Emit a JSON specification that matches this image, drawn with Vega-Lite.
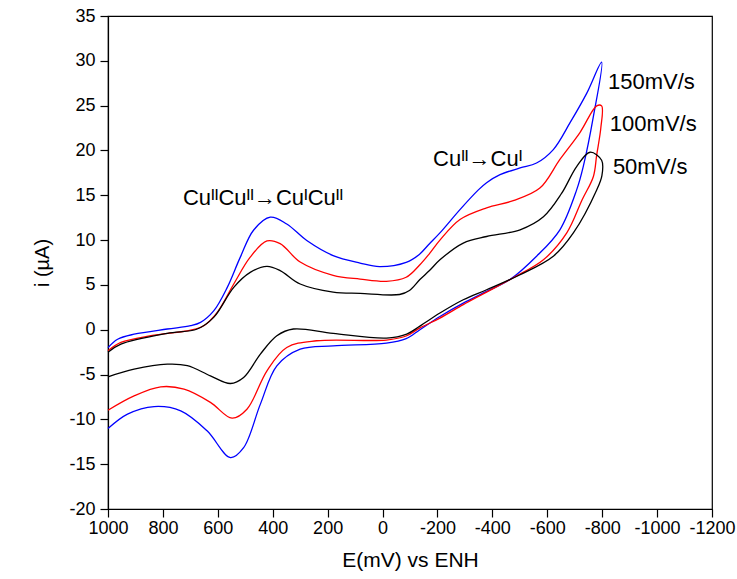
{
  "$schema": "https://vega.github.io/schema/vega-lite/v6.json",
  "width": 604,
  "height": 493,
  "autosize": {"type": "none"},
  "padding": {"left": 108, "top": 16, "right": 25, "bottom": 70},
  "config": {
    "font": "Liberation Sans",
    "view": {"stroke": "black", "strokeWidth": 1.2},
    "axis": {
      "grid": false,
      "domainColor": "black",
      "domainWidth": 1.2,
      "tickColor": "black",
      "tickWidth": 1.2,
      "labelColor": "black",
      "labelFontSize": 18,
      "labelFont": "Liberation Sans",
      "titleFont": "Liberation Sans",
      "titleColor": "black",
      "titleFontWeight": "normal",
      "labelOverlap": false,
      "labelFlush": false
    }
  },
  "datasets": {
    "cv": [
      {"s": "150mV/s", "o": 0, "E": 1000, "i": -2.0},
      {"s": "150mV/s", "o": 1, "E": 965, "i": -1.06},
      {"s": "150mV/s", "o": 2, "E": 905, "i": -0.5},
      {"s": "150mV/s", "o": 3, "E": 784, "i": 0.08},
      {"s": "150mV/s", "o": 4, "E": 699, "i": 0.45},
      {"s": "150mV/s", "o": 5, "E": 663, "i": 0.82},
      {"s": "150mV/s", "o": 6, "E": 615, "i": 2.1},
      {"s": "150mV/s", "o": 7, "E": 566, "i": 4.7},
      {"s": "150mV/s", "o": 8, "E": 518, "i": 8.1},
      {"s": "150mV/s", "o": 9, "E": 470, "i": 11.1},
      {"s": "150mV/s", "o": 10, "E": 409, "i": 12.56},
      {"s": "150mV/s", "o": 11, "E": 349, "i": 11.8},
      {"s": "150mV/s", "o": 12, "E": 276, "i": 9.95},
      {"s": "150mV/s", "o": 13, "E": 180, "i": 8.27},
      {"s": "150mV/s", "o": 14, "E": 82, "i": 7.44},
      {"s": "150mV/s", "o": 15, "E": 11, "i": 7.04},
      {"s": "150mV/s", "o": 16, "E": -86, "i": 7.52},
      {"s": "150mV/s", "o": 17, "E": -134, "i": 8.4},
      {"s": "150mV/s", "o": 18, "E": -171, "i": 9.6},
      {"s": "150mV/s", "o": 19, "E": -209, "i": 10.8},
      {"s": "150mV/s", "o": 20, "E": -282, "i": 13.4},
      {"s": "150mV/s", "o": 21, "E": -349, "i": 15.6},
      {"s": "150mV/s", "o": 22, "E": -379, "i": 16.4},
      {"s": "150mV/s", "o": 23, "E": -428, "i": 17.3},
      {"s": "150mV/s", "o": 24, "E": -501, "i": 18.05},
      {"s": "150mV/s", "o": 25, "E": -561, "i": 18.6},
      {"s": "150mV/s", "o": 26, "E": -622, "i": 20.1},
      {"s": "150mV/s", "o": 27, "E": -683, "i": 23.1},
      {"s": "150mV/s", "o": 28, "E": -744, "i": 26.4},
      {"s": "150mV/s", "o": 29, "E": -798, "i": 29.85},
      {"s": "150mV/s", "o": 30, "E": -768, "i": 23.8},
      {"s": "150mV/s", "o": 31, "E": -731, "i": 18.2},
      {"s": "150mV/s", "o": 32, "E": -707, "i": 15.6},
      {"s": "150mV/s", "o": 33, "E": -646, "i": 11.15},
      {"s": "150mV/s", "o": 34, "E": -561, "i": 8.2},
      {"s": "150mV/s", "o": 35, "E": -464, "i": 5.6},
      {"s": "150mV/s", "o": 36, "E": -379, "i": 4.27},
      {"s": "150mV/s", "o": 37, "E": -294, "i": 2.97},
      {"s": "150mV/s", "o": 38, "E": -209, "i": 1.48},
      {"s": "150mV/s", "o": 39, "E": -136, "i": 0.0},
      {"s": "150mV/s", "o": 40, "E": -86, "i": -1.0},
      {"s": "150mV/s", "o": 41, "E": -14, "i": -1.5},
      {"s": "150mV/s", "o": 42, "E": 180, "i": -1.8},
      {"s": "150mV/s", "o": 43, "E": 300, "i": -2.17},
      {"s": "150mV/s", "o": 44, "E": 385, "i": -4.03},
      {"s": "150mV/s", "o": 45, "E": 445, "i": -8.3},
      {"s": "150mV/s", "o": 46, "E": 506, "i": -13.16},
      {"s": "150mV/s", "o": 47, "E": 554, "i": -14.27},
      {"s": "150mV/s", "o": 48, "E": 639, "i": -11.28},
      {"s": "150mV/s", "o": 49, "E": 735, "i": -9.05},
      {"s": "150mV/s", "o": 50, "E": 832, "i": -8.57},
      {"s": "150mV/s", "o": 51, "E": 929, "i": -9.42},
      {"s": "150mV/s", "o": 52, "E": 1000, "i": -11.03},

      {"s": "100mV/s", "o": 0, "E": 1000, "i": -2.35},
      {"s": "100mV/s", "o": 1, "E": 953, "i": -1.42},
      {"s": "100mV/s", "o": 2, "E": 844, "i": -0.67},
      {"s": "100mV/s", "o": 3, "E": 699, "i": -0.04},
      {"s": "100mV/s", "o": 4, "E": 651, "i": 0.45},
      {"s": "100mV/s", "o": 5, "E": 602, "i": 1.94},
      {"s": "100mV/s", "o": 6, "E": 542, "i": 5.1},
      {"s": "100mV/s", "o": 7, "E": 482, "i": 8.1},
      {"s": "100mV/s", "o": 8, "E": 421, "i": 9.9},
      {"s": "100mV/s", "o": 9, "E": 373, "i": 9.6},
      {"s": "100mV/s", "o": 10, "E": 300, "i": 7.55},
      {"s": "100mV/s", "o": 11, "E": 180, "i": 6.07},
      {"s": "100mV/s", "o": 12, "E": 82, "i": 5.65},
      {"s": "100mV/s", "o": 13, "E": -14, "i": 5.4},
      {"s": "100mV/s", "o": 14, "E": -86, "i": 5.85},
      {"s": "100mV/s", "o": 15, "E": -136, "i": 7.25},
      {"s": "100mV/s", "o": 16, "E": -171, "i": 8.5},
      {"s": "100mV/s", "o": 17, "E": -209, "i": 10.0},
      {"s": "100mV/s", "o": 18, "E": -282, "i": 12.3},
      {"s": "100mV/s", "o": 19, "E": -379, "i": 13.6},
      {"s": "100mV/s", "o": 20, "E": -476, "i": 14.4},
      {"s": "100mV/s", "o": 21, "E": -573, "i": 15.8},
      {"s": "100mV/s", "o": 22, "E": -646, "i": 19.0},
      {"s": "100mV/s", "o": 23, "E": -719, "i": 22.0},
      {"s": "100mV/s", "o": 24, "E": -780, "i": 24.97},
      {"s": "100mV/s", "o": 25, "E": -798, "i": 24.97},
      {"s": "100mV/s", "o": 26, "E": -795, "i": 22.5},
      {"s": "100mV/s", "o": 27, "E": -780, "i": 19.5},
      {"s": "100mV/s", "o": 28, "E": -768, "i": 17.1},
      {"s": "100mV/s", "o": 29, "E": -727, "i": 14.5},
      {"s": "100mV/s", "o": 30, "E": -671, "i": 10.8},
      {"s": "100mV/s", "o": 31, "E": -586, "i": 7.8},
      {"s": "100mV/s", "o": 32, "E": -476, "i": 5.8},
      {"s": "100mV/s", "o": 33, "E": -379, "i": 4.2},
      {"s": "100mV/s", "o": 34, "E": -294, "i": 2.8},
      {"s": "100mV/s", "o": 35, "E": -209, "i": 1.3},
      {"s": "100mV/s", "o": 36, "E": -136, "i": 0.2},
      {"s": "100mV/s", "o": 37, "E": -86, "i": -0.7},
      {"s": "100mV/s", "o": 38, "E": -14, "i": -1.15},
      {"s": "100mV/s", "o": 39, "E": 240, "i": -1.23},
      {"s": "100mV/s", "o": 40, "E": 349, "i": -1.98},
      {"s": "100mV/s", "o": 41, "E": 421, "i": -4.58},
      {"s": "100mV/s", "o": 42, "E": 494, "i": -8.87},
      {"s": "100mV/s", "o": 43, "E": 548, "i": -9.87},
      {"s": "100mV/s", "o": 44, "E": 627, "i": -8.1},
      {"s": "100mV/s", "o": 45, "E": 723, "i": -6.63},
      {"s": "100mV/s", "o": 46, "E": 808, "i": -6.37},
      {"s": "100mV/s", "o": 47, "E": 905, "i": -7.38},
      {"s": "100mV/s", "o": 48, "E": 1000, "i": -8.98},

      {"s": "50mV/s", "o": 0, "E": 1000, "i": -2.5},
      {"s": "50mV/s", "o": 1, "E": 953, "i": -1.6},
      {"s": "50mV/s", "o": 2, "E": 784, "i": -0.4},
      {"s": "50mV/s", "o": 3, "E": 675, "i": 0.08},
      {"s": "50mV/s", "o": 4, "E": 615, "i": 1.38},
      {"s": "50mV/s", "o": 5, "E": 542, "i": 4.73},
      {"s": "50mV/s", "o": 6, "E": 482, "i": 6.4},
      {"s": "50mV/s", "o": 7, "E": 421, "i": 7.07},
      {"s": "50mV/s", "o": 8, "E": 373, "i": 6.6},
      {"s": "50mV/s", "o": 9, "E": 300, "i": 5.1},
      {"s": "50mV/s", "o": 10, "E": 180, "i": 4.2},
      {"s": "50mV/s", "o": 11, "E": 82, "i": 4.05},
      {"s": "50mV/s", "o": 12, "E": -62, "i": 3.93},
      {"s": "50mV/s", "o": 13, "E": -98, "i": 4.38},
      {"s": "50mV/s", "o": 14, "E": -136, "i": 5.6},
      {"s": "50mV/s", "o": 15, "E": -171, "i": 6.6},
      {"s": "50mV/s", "o": 16, "E": -209, "i": 7.8},
      {"s": "50mV/s", "o": 17, "E": -294, "i": 9.67},
      {"s": "50mV/s", "o": 18, "E": -379, "i": 10.4},
      {"s": "50mV/s", "o": 19, "E": -501, "i": 11.15},
      {"s": "50mV/s", "o": 20, "E": -586, "i": 12.6},
      {"s": "50mV/s", "o": 21, "E": -652, "i": 15.2},
      {"s": "50mV/s", "o": 22, "E": -707, "i": 18.2},
      {"s": "50mV/s", "o": 23, "E": -756, "i": 19.8},
      {"s": "50mV/s", "o": 24, "E": -798, "i": 18.9},
      {"s": "50mV/s", "o": 25, "E": -799, "i": 17.2},
      {"s": "50mV/s", "o": 26, "E": -780, "i": 15.6},
      {"s": "50mV/s", "o": 27, "E": -695, "i": 10.8},
      {"s": "50mV/s", "o": 28, "E": -622, "i": 8.2},
      {"s": "50mV/s", "o": 29, "E": -501, "i": 6.13},
      {"s": "50mV/s", "o": 30, "E": -379, "i": 4.46},
      {"s": "50mV/s", "o": 31, "E": -294, "i": 3.34},
      {"s": "50mV/s", "o": 32, "E": -209, "i": 1.86},
      {"s": "50mV/s", "o": 33, "E": -136, "i": 0.4},
      {"s": "50mV/s", "o": 34, "E": -88, "i": -0.48},
      {"s": "50mV/s", "o": 35, "E": -14, "i": -0.93},
      {"s": "50mV/s", "o": 36, "E": 180, "i": -0.41},
      {"s": "50mV/s", "o": 37, "E": 325, "i": 0.08},
      {"s": "50mV/s", "o": 38, "E": 385, "i": -0.67},
      {"s": "50mV/s", "o": 39, "E": 445, "i": -2.72},
      {"s": "50mV/s", "o": 40, "E": 506, "i": -5.33},
      {"s": "50mV/s", "o": 41, "E": 554, "i": -6.0},
      {"s": "50mV/s", "o": 42, "E": 627, "i": -5.14},
      {"s": "50mV/s", "o": 43, "E": 711, "i": -4.0},
      {"s": "50mV/s", "o": 44, "E": 784, "i": -3.84},
      {"s": "50mV/s", "o": 45, "E": 905, "i": -4.4},
      {"s": "50mV/s", "o": 46, "E": 1000, "i": -5.25}
    ],
    "notes": [
      {"E": 727, "i": 13.95, "text": "CuᴵᴵCuᴵᴵ→CuᴵCuᴵᴵ"},
      {"E": -184, "i": 18.3, "text": "Cuᴵᴵ→Cuᴵ"},
      {"E": -821, "i": 26.9, "text": "150mV/s"},
      {"E": -828, "i": 22.16, "text": "100mV/s"},
      {"E": -839, "i": 17.41, "text": "50mV/s"}
    ]
  },
  "layer": [
    {
      "data": {"name": "cv"},
      "mark": {"type": "line", "interpolate": "catmull-rom", "strokeWidth": 1.3},
      "encoding": {
        "x": {
          "field": "E",
          "type": "quantitative",
          "scale": {"domain": [-1200, 1000], "reverse": true, "nice": false, "zero": false},
          "axis": {
            "title": "E(mV) vs ENH",
            "titleFontSize": 21,
            "titlePadding": 12,
            "values": [1000, 900, 800, 700, 600, 500, 400, 300, 200, 100, 0, -100, -200, -300, -400, -500, -600, -700, -800, -900, -1000, -1100, -1200],
            "labelExpr": "datum.value % 200 === 0 ? '' + datum.value : ''",
            "tickSize": {"condition": {"test": "datum.value % 200 === 0", "value": 8}, "value": 4},
            "labelPadding": 2
          }
        },
        "y": {
          "field": "i",
          "type": "quantitative",
          "scale": {"domain": [-20, 35], "nice": false, "zero": false},
          "axis": {
            "title": "i (µA)",
            "titleFontSize": 20,
            "titlePadding": 16,
            "values": [-20, -17.5, -15, -12.5, -10, -7.5, -5, -2.5, 0, 2.5, 5, 7.5, 10, 12.5, 15, 17.5, 20, 22.5, 25, 27.5, 30, 32.5, 35],
            "labelExpr": "datum.value % 5 === 0 ? '' + datum.value : ''",
            "tickSize": {"condition": {"test": "datum.value % 5 === 0", "value": 8}, "value": 4},
            "labelPadding": 5
          }
        },
        "color": {
          "field": "s",
          "type": "nominal",
          "scale": {"domain": ["50mV/s", "100mV/s", "150mV/s"], "range": ["#000000", "#ff0000", "#0000ff"]},
          "legend": null
        },
        "order": {"field": "o", "type": "quantitative"}
      }
    },
    {
      "data": {"name": "notes"},
      "mark": {"type": "text", "align": "left", "baseline": "alphabetic", "fontSize": 22, "color": "black", "font": "Liberation Sans"},
      "encoding": {
        "x": {"field": "E", "type": "quantitative"},
        "y": {"field": "i", "type": "quantitative"},
        "text": {"field": "text"}
      }
    }
  ]
}
